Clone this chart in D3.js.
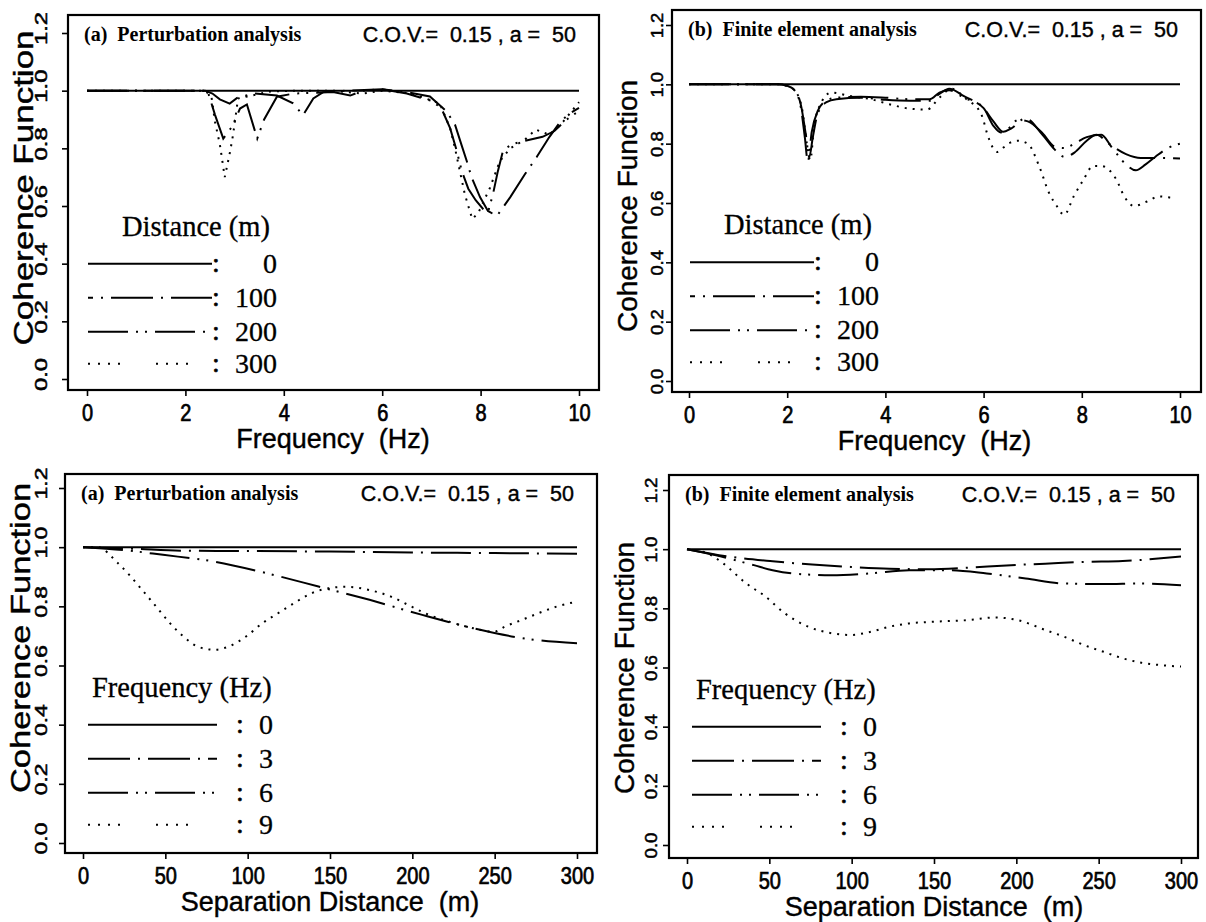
<!DOCTYPE html>
<html><head><meta charset="utf-8">
<script src="https://cdn.jsdelivr.net/npm/d3@7"></script>
<style>body{margin:0;background:#fff}svg{display:block}text{white-space:pre}</style>
</head><body><svg id="c" width="1206" height="922"></svg>
<script>
// ---------- data ----------
const yTicks = [0, 0.2, 0.4, 0.6, 0.8, 1.0, 1.2];
const freqTicks = [0, 2, 4, 6, 8, 10];
const distTicks = [0, 50, 100, 150, 200, 250, 300];
const distanceLabels = ["0", "100", "200", "300"];
const frequencyLabels = ["0", "3", "6", "9"];

// (a) perturbation, coherence vs frequency, distances 0/100/200/300 m
const pf_d0 = [[0,1],[10,1]];
const pf_d100 = [[0,1],[2.4,1],[2.55,0.99],[2.7,0.97],[2.9,0.955],[3.05,0.975],[3.4,0.99],[3.86,0.983],[4.19,0.956],[4.39,0.915],[4.6,0.973],[4.8,0.995],[5.3,1.0],[6.0,1.005],[6.5,0.995],[6.97,0.98],[7.31,0.928],[7.48,0.882],[7.61,0.813],[7.72,0.755],[7.82,0.698],[7.99,0.63],[8.15,0.583],[8.33,0.565],[8.6,0.63],[8.9,0.71],[9.14,0.77],[9.4,0.84],[9.61,0.89],[9.8,0.92],[10,0.94]];
const pf_d200 = [[0,1],[2.45,1],[2.6,0.917],[2.77,0.834],[2.95,0.876],[3.11,0.938],[3.25,0.952],[3.46,0.834],[3.6,0.9],[3.86,0.979],[4.2,0.99],[5.0,0.995],[5.35,0.983],[5.6,1.0],[6.0,1.005],[6.5,0.99],[7.0,0.965],[7.2,0.94],[7.38,0.87],[7.5,0.8],[7.62,0.72],[7.75,0.66],[7.9,0.62],[8.05,0.59],[8.15,0.578],[8.25,0.64],[8.35,0.72],[8.46,0.795],[8.65,0.815],[8.85,0.824],[9.26,0.84],[9.5,0.86],[9.75,0.9],[10,0.93]];
const pf_d300 = [[0,1],[2.4,1],[2.53,0.979],[2.6,0.893],[2.7,0.814],[2.8,0.70],[2.91,0.79],[2.97,0.848],[3.07,0.973],[3.4,0.985],[3.72,0.997],[4.2,1.0],[5.0,1.0],[5.6,0.99],[6.0,1.0],[6.6,0.99],[7.17,0.956],[7.38,0.87],[7.48,0.80],[7.58,0.72],[7.68,0.64],[7.83,0.555],[7.95,0.575],[8.19,0.663],[8.39,0.755],[8.6,0.80],[8.9,0.83],[9.12,0.865],[9.4,0.847],[9.68,0.893],[10,0.96]];

// (b) finite element, coherence vs frequency
const ff_d0 = [[0,1],[10,1]];
const ff_d100 = [[0,1],[1.8,1],[2.0,0.995],[2.15,0.98],[2.28,0.93],[2.38,0.83],[2.45,0.755],[2.52,0.82],[2.62,0.9],[2.8,0.94],[3.0,0.95],[3.5,0.955],[4.0,0.948],[4.5,0.945],[4.9,0.945],[5.1,0.968],[5.3,0.985],[5.6,0.96],[6.0,0.92],[6.2,0.875],[6.4,0.84],[6.55,0.85],[6.85,0.885],[7.2,0.83],[7.45,0.78],[7.65,0.755],[7.85,0.77],[8.1,0.81],[8.3,0.83],[8.55,0.80],[8.9,0.765],[9.2,0.752],[9.6,0.752],[10,0.75]];
const ff_d200 = [[0,1],[1.8,1],[2.0,0.995],[2.15,0.98],[2.28,0.92],[2.36,0.82],[2.42,0.74],[2.5,0.84],[2.62,0.91],[2.8,0.945],[3.0,0.955],[3.5,0.958],[4.0,0.955],[4.5,0.95],[4.9,0.95],[5.1,0.972],[5.3,0.98],[5.6,0.955],[6.0,0.92],[6.2,0.86],[6.35,0.838],[6.5,0.85],[6.7,0.88],[6.9,0.875],[7.2,0.835],[7.45,0.79],[7.64,0.785],[7.85,0.80],[8.1,0.822],[8.4,0.83],[8.6,0.79],[8.9,0.73],[9.1,0.71],[9.3,0.73],[9.5,0.756],[9.75,0.785],[10,0.80]];
const ff_d300 = [[0,1],[1.8,1],[2.0,0.995],[2.15,0.98],[2.3,0.92],[2.4,0.8],[2.47,0.745],[2.55,0.86],[2.7,0.94],[2.89,0.972],[3.3,0.96],[3.7,0.95],[4.1,0.932],[4.5,0.918],[4.85,0.915],[5.1,0.955],[5.35,0.985],[5.65,0.95],[5.95,0.9],[6.1,0.82],[6.27,0.772],[6.5,0.80],[6.7,0.81],[6.9,0.80],[7.13,0.725],[7.33,0.635],[7.49,0.59],[7.64,0.56],[7.84,0.624],[8.04,0.68],[8.23,0.725],[8.39,0.725],[8.7,0.68],[8.86,0.624],[9.06,0.59],[9.33,0.605],[9.57,0.622],[9.8,0.618]];

// (a) perturbation, coherence vs separation distance, frequencies 0/3/6/9 Hz
const pd_f0 = [[0,1],[300,1]];
const pd_f3 = [[0,1],[30,0.995],[60,0.988],[100,0.987],[150,0.985],[200,0.982],[250,0.98],[300,0.978]];
const pd_f6 = [[0,1],[25,0.99],[48.6,0.974],[80,0.951],[111.5,0.912],[143,0.867],[174,0.822],[206,0.771],[237,0.726],[268.6,0.691],[300,0.675]];
const pd_f9 = [[0,1],[8.8,1.0],[21.4,0.945],[36,0.855],[44.4,0.799],[52.8,0.743],[61,0.698],[69.6,0.664],[80,0.653],[88.4,0.664],[99,0.698],[109,0.743],[120,0.782],[128,0.81],[138.7,0.844],[149,0.861],[159.6,0.866],[174,0.855],[187,0.833],[199.5,0.799],[208,0.776],[222.5,0.748],[237,0.726],[249.7,0.714],[256,0.731],[266.5,0.754],[279,0.782],[287.5,0.799],[300,0.816]];

// (b) finite element, coherence vs separation distance
const fd_f0 = [[0,1],[300,1]];
const fd_f3 = [[0,1],[24,0.976],[52,0.959],[76,0.948],[99.5,0.94],[123,0.934],[146.7,0.932],[170,0.937],[194,0.945],[217.5,0.951],[241,0.957],[264.6,0.96],[300,0.975]];
const fd_f6 = [[0,1],[17,0.98],[40.6,0.946],[52,0.929],[64,0.918],[87.7,0.912],[111,0.918],[135,0.929],[158.5,0.929],[182,0.918],[205.7,0.901],[229,0.884],[253,0.882],[276,0.884],[300,0.878]];
const fd_f9 = [[0,1],[12,0.987],[21.7,0.953],[35.8,0.885],[47.6,0.84],[59.4,0.783],[73.6,0.738],[87.7,0.716],[99.5,0.71],[111,0.72],[123,0.738],[135,0.749],[151,0.755],[170,0.76],[187,0.769],[201,0.76],[217.5,0.727],[229,0.704],[241,0.676],[253,0.653],[264.6,0.631],[276,0.616],[288,0.608],[300,0.603]];

// ---------- styling / layout ----------
const SANS = "'Liberation Sans', Arial, Helvetica, sans-serif";
const SERIF = "'Liberation Serif', 'Times New Roman', serif";
const seriesDash = [null, "40,8,2,8", "40,8,2,7,2,8", "2,6"];
const legendDash = [null, "42,8,2,8", "40,8,2,7,2,8", "2,8,2,8,2,8,2,36"];

const panels = [
  {box:[68,15,599,390], xr:[87,579], yr:[379,33], xDomain:[0,10], xTicks:freqTicks,
   title:"(a)  Perturbation analysis", xlabel:"Frequency  (Hz)", legTitle:"Distance (m)", legLabels:distanceLabels,
   legStyle:"top", series:[pf_d0,pf_d100,pf_d200,pf_d300], curve:d3.curveLinear,
   yLabOff:21, yLabStretch:1.4, yLabShift:-5, yTitleStretch:1.25, yTitleY:188},
  {box:[672,10,1201,392], xr:[689,1180], yr:[381,25], xDomain:[0,10], xTicks:freqTicks,
   title:"(b)  Finite element analysis", xlabel:"Frequency  (Hz)", legTitle:"Distance (m)", legLabels:distanceLabels,
   legStyle:"top", series:[ff_d0,ff_d100,ff_d200,ff_d300], curve:d3.curveMonotoneX,
   yLabOff:9, yLabStretch:1.08, yLabShift:0, yTitleStretch:1.0, yTitleY:206},
  {box:[65,474,597,853], xr:[83,577], yr:[843,488], xDomain:[0,300], xTicks:distTicks,
   title:"(a)  Perturbation analysis", xlabel:"Separation Distance  (m)", legTitle:"Frequency (Hz)", legLabels:frequencyLabels,
   legStyle:"bottom", series:[pd_f0,pd_f3,pd_f6,pd_f9], curve:d3.curveMonotoneX,
   yLabOff:18, yLabStretch:1.35, yLabShift:-5, yTitleStretch:1.23, yTitleY:638},
  {box:[669,475,1198,858], xr:[687,1181], yr:[845,490], xDomain:[0,300], xTicks:distTicks,
   title:"(b)  Finite element analysis", xlabel:"Separation Distance  (m)", legTitle:"Frequency (Hz)", legLabels:frequencyLabels,
   legStyle:"bottom", series:[fd_f0,fd_f3,fd_f6,fd_f9], curve:d3.curveMonotoneX,
   yLabOff:12, yLabStretch:1.1, yLabShift:0, yTitleStretch:1.0, yTitleY:668}
];

const svg = d3.select("#c");
svg.append("rect").attr("width",1206).attr("height",922).attr("fill","#fff");

function heavy(sel, w) {
  return sel.attr("fill", "#000").attr("stroke", "#000").attr("stroke-width", w).attr("paint-order", "stroke");
}

panels.forEach(p => {
  const [bx0, by0, bx1, by1] = p.box;
  const x = d3.scaleLinear().domain(p.xDomain).range(p.xr);
  const y = d3.scaleLinear().domain([0, 1.2]).range(p.yr);
  const g = svg.append("g");

  // frame
  g.append("rect").attr("x", bx0).attr("y", by0).attr("width", bx1 - bx0).attr("height", by1 - by0)
    .attr("fill", "none").attr("stroke", "#000").attr("stroke-width", 2.2);

  // y axis
  const ya = g.append("g").attr("transform", `translate(${bx0},0)`)
    .call(d3.axisLeft(y).tickValues(yTicks).tickSize(6).tickFormat(d3.format(".1f")));
  ya.select(".domain").remove();
  ya.selectAll(".tick line").attr("stroke", "#000").attr("stroke-width", 1.6);
  heavy(ya.selectAll(".tick text"), 0.5)
    .attr("x", null).attr("dy", null).attr("text-anchor", "middle")
    .attr("font-family", SANS).attr("font-size", 17)
    .attr("transform", `translate(${-p.yLabOff},${p.yLabShift}) rotate(-90) scale(${p.yLabStretch},1)`);

  // x axis
  const xa = g.append("g").attr("transform", `translate(0,${by1})`)
    .call(d3.axisBottom(x).tickValues(p.xTicks).tickSize(6).tickFormat(d3.format("d")));
  xa.select(".domain").remove();
  xa.selectAll(".tick line").attr("stroke", "#000").attr("stroke-width", 1.6);
  heavy(xa.selectAll(".tick text"), 0.6)
    .attr("y", null).attr("dy", null).attr("text-anchor", "middle")
    .attr("font-family", SANS).attr("font-size", 20)
    .attr("transform", "translate(0,31) scale(1,1.2)");

  // axis titles
  heavy(g.append("text"), 0.4).attr("text-anchor", "middle").attr("font-family", SANS).attr("font-size", 27)
    .attr("transform", `translate(${(p.xr[0] + p.xr[1]) / 2},${by1 + 58})`).text(p.xlabel);
  heavy(g.append("text"), 0.4).attr("text-anchor", "middle").attr("font-family", SANS).attr("font-size", 28)
    .attr("transform", `translate(${bx0 - 35},${p.yTitleY}) rotate(-90) scale(${p.yTitleStretch},1)`)
    .text("Coherence Function");

  // panel headings
  g.append("text").attr("x", bx0 + 16).attr("y", by0 + 26).attr("font-family", SERIF)
    .attr("font-weight", "bold").attr("font-size", 20).text(p.title);
  heavy(g.append("text"), 0.4).attr("x", bx1 - 23).attr("y", by0 + 27).attr("text-anchor", "end")
    .attr("font-family", SANS).attr("font-size", 21.5).text("C.O.V.=  0.15 , a =  50");

  // curves
  const line = d3.line().x(d => x(d[0])).y(d => y(d[1])).curve(p.curve);
  p.series.forEach((s, i) => {
    g.append("path").datum(s).attr("d", line).attr("fill", "none")
      .attr("stroke", "#000").attr("stroke-width", 2)
      .attr("stroke-dasharray", seriesDash[i]);
  });

  // legend
  const x0 = x(0);
  const y0 = y(0.4);
  const rowOff = [0, 34, 68, 100];
  const top = p.legStyle === "top";
  heavy(g.append("text"), 0.3).attr("x", x0 + (top ? 35 : 9)).attr("y", y0 - 28)
    .attr("font-family", SERIF).attr("font-size", 28.5).text(p.legTitle);
  p.legLabels.forEach((lab, i) => {
    const ry = y0 + rowOff[i];
    const xs = x0 + (top ? 1 : 5);
    const xe = i === 3 ? xs + 100 : (top ? x0 + 125 : x0 + 134);
    g.append("line").attr("x1", xs).attr("x2", xe).attr("y1", ry).attr("y2", ry)
      .attr("stroke", "#000").attr("stroke-width", 2)
      .attr("stroke-dasharray", legendDash[i])
      .attr("stroke-dashoffset", (top && i === 1) ? 37 : 0);
    heavy(g.append("text"), 0.5).attr("x", x0 + (top ? 129 : 157)).attr("y", ry + 8).attr("text-anchor", "middle")
      .attr("font-family", SERIF).attr("font-size", 28).text(":");
    heavy(g.append("text"), 0.3).attr("x", x0 + (top ? 190 : 176)).attr("y", ry + 9)
      .attr("text-anchor", top ? "end" : "start")
      .attr("font-family", SERIF).attr("font-size", 28).text(lab);
  });
});
</script>
</body></html>
